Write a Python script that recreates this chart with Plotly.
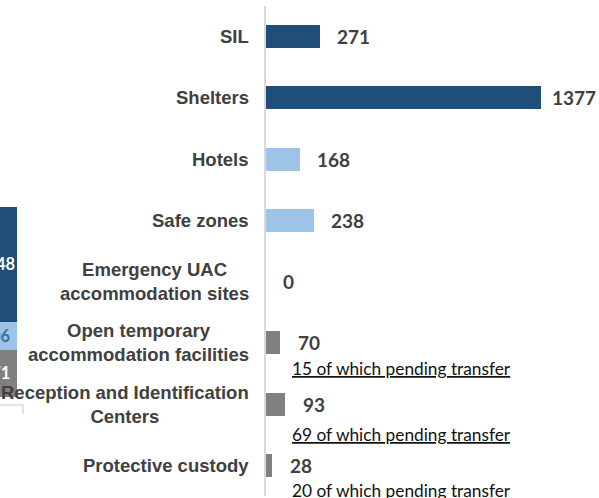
import plotly.graph_objects as go

# ---- data ----
categories = ["SIL", "Shelters", "Hotels", "Safe zones",
              "Emergency UAC<br>accommodation sites",
              "Open temporary<br>accommodation facilities",
              "Reception and Identification<br>Centers",
              "Protective custody"]
values = [271, 1377, 168, 238, 0, 70, 93, 28]
groups = ["dark", "dark", "light", "light", "gray", "gray", "gray", "gray"]
pending_cats = ["Open temporary<br>accommodation facilities",
                "Reception and Identification<br>Centers",
                "Protective custody"]
pending_values = [15, 69, 20]
pending_underline = [True, True, False]

# left (cropped) summary stack, bottom to top
stack_names = ["gray", "light", "dark"]
stack_values = [671, 406, 1648]

# ---- styles ----
W, H = 599, 498
colors = {"dark": "#1f4e79", "light": "#9dc3e6", "gray": "#808080"}
stack_text_colors = {"dark": "#ffffff", "light": "#2f75b5", "gray": "#ffffff"}
label_color = "#404040"
num_font = "Lato"
cat_font = "Liberation Sans, Arial, sans-serif"

fig = go.Figure()

fig.add_trace(go.Bar(
    x=values, y=categories, orientation="h",
    marker=dict(color=[colors[g] for g in groups], line=dict(width=0)),
    width=0.376, xaxis="x", yaxis="y", showlegend=False, hoverinfo="skip",
))

for name, v in zip(stack_names, stack_values):
    fig.add_trace(go.Bar(
        x=[0], y=[v], xaxis="x2", yaxis="y2", width=1.4,
        marker=dict(color=colors[name], line=dict(width=0)),
        text=[str(v)], textposition="inside", insidetextanchor="middle",
        textangle=0,
        textfont=dict(family=num_font, size=16.5, color=stack_text_colors[name], weight="bold"),
        constraintext="none", cliponaxis=True,
        showlegend=False, hoverinfo="skip",
    ))

annotations = []
# category labels (centered multi-line, right edge at ~250px)
for c in categories:
    annotations.append(dict(
        x=0, xref="x", y=c, yref="y", text="<b>%s</b>" % c, showarrow=False,
        xanchor="right", xshift=-15, align="center",
        font=dict(family=cat_font, size=18.5, color=label_color),
    ))
# value labels
shifts = [15, 9, 15, 15, 15, 16, 16, 16]
for c, v, s in zip(categories, values, shifts):
    annotations.append(dict(
        x=v, xref="x", y=c, yref="y", text="<b>%d</b>" % v, showarrow=False,
        xanchor="left", xshift=s,
        font=dict(family=num_font, size=19, color=label_color),
    ))
# pending transfer notes
yshifts = [-26, -30, -25]
for c, p, u, ys in zip(pending_cats, pending_values, pending_underline, yshifts):
    t = "%d of which pending transfer" % p
    if u:
        t = "<u>%s</u>" % t
    annotations.append(dict(
        x=0, xref="x", y=c, yref="y", text=t, showarrow=False,
        xanchor="left", xshift=24, yshift=ys,
        font=dict(family=num_font, size=17.3, color="#111111"),
    ))

total = sum(stack_values)
fig.update_layout(
    width=W, height=H, autosize=False,
    paper_bgcolor="white", plot_bgcolor="white",
    margin=dict(l=0, r=0, t=6, b=2),
    barmode="stack", bargap=0,
    xaxis=dict(domain=[266 / W, 1], range=[0, 1665], visible=False, fixedrange=True),
    yaxis=dict(type="category", categoryorder="array", categoryarray=categories,
               range=[len(categories) - 0.5, -0.5], showticklabels=False,
               showgrid=False, zeroline=False, showline=True,
               linecolor="#d9d9d9", linewidth=2, ticks=""),
    xaxis2=dict(domain=[0, 30 / W], range=[0.133, 1.133], visible=False, anchor="y2"),
    yaxis2=dict(domain=[0.202, 0.59], range=[0, total], visible=False, anchor="x2"),
    annotations=annotations,
    shapes=[dict(type="path", xref="paper", yref="paper",
                 path="M 0 %f L %f %f L %f %f" % ((496 - 405) / 490, 23 / W, (496 - 405) / 490,
                                                   23 / W, (496 - 414) / 490),
                 line=dict(color="#d9d9d9", width=1.5))],
)

fig.write_html("out.html", config={"displayModeBar": False},
               post_script="document.body.style.margin='0';document.body.style.overflow='hidden';")
